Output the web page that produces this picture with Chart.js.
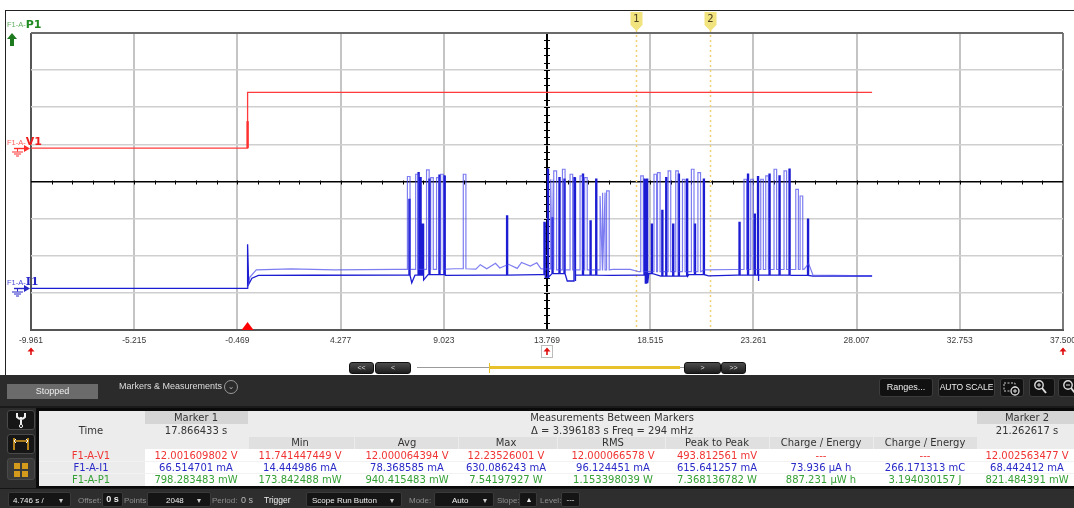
<!DOCTYPE html>
<html><head><meta charset="utf-8">
<script src="https://cdn.jsdelivr.net/npm/chart.js@4"></script>
<style>
html,body{margin:0;padding:0;width:1074px;height:508px;overflow:hidden;background:#fff;font-family:'DejaVu Sans',Verdana,sans-serif;}
#wrap{position:relative;width:1074px;height:508px;overflow:hidden;background:#fff;}
#frame{position:absolute;left:5px;top:10px;width:1200px;height:400px;border-left:1px solid #222;border-top:1px solid #222;}
#c{position:absolute;left:0;top:0;}
.a{position:absolute;white-space:nowrap;}
.sbtn{position:absolute;top:362px;height:10px;background:linear-gradient(#4c4c4c,#1c1c1c);border:1px solid #111;border-radius:3px;color:#ddd;font:7px 'Liberation Sans',sans-serif;text-align:center;line-height:10px;}
#panel{position:absolute;left:0;top:375px;width:1074px;height:133px;background:#2b2b2b;}
.ui{font-family:'Liberation Sans',Arial,sans-serif;}
.rb{position:absolute;top:378px;height:17px;background:#111;border:1px solid #3c3c3c;border-radius:3px;color:#eee;font:9px 'Liberation Sans',sans-serif;text-align:center;line-height:17px;}
.ib{position:absolute;left:7px;width:26px;background:#161616;border:1px solid #4a4a4a;border-radius:3px;}
.cell{position:absolute;}
.t{position:absolute;font:10px 'DejaVu Sans',Verdana,sans-serif;white-space:nowrap;transform:translateX(-50%);line-height:12px;}
#bar{position:absolute;left:0;top:488px;width:1074px;height:20px;background:#2e2e2e;border-top:1px solid #151515;}
.bt{position:absolute;font:8px 'Liberation Sans',Arial,sans-serif;color:#9a9a9a;white-space:nowrap;line-height:11px;}
.bx{position:absolute;height:13px;background:#151515;border:1px solid #3a3a3a;border-radius:2px;color:#eee;font:8px 'Liberation Sans',Arial,sans-serif;line-height:13px;white-space:nowrap;}
</style></head>
<body>
<div id="wrap">
<div id="frame"></div>
<canvas id="c" width="1100" height="375"></canvas>

<!-- scroll controls -->
<div class="sbtn" style="left:349px;width:23px;">&lt;&lt;</div>
<div class="sbtn" style="left:375px;width:34px;">&lt;</div>
<div class="a" style="left:417px;top:367px;width:267px;height:1px;background:#9a9a9a;"></div>
<div class="a" style="left:489px;top:366px;width:191px;height:3px;background:#e8c02a;"></div>
<div class="a" style="left:489px;top:363px;width:1px;height:10px;background:#e8c02a;"></div>
<div class="sbtn" style="left:684px;width:35px;">&gt;</div>
<div class="sbtn" style="left:721px;width:23px;">&gt;&gt;</div>

<div id="panel"></div>
<div class="a ui" style="left:7px;top:384px;width:91px;height:15px;background:#6b6b6b;color:#eee;font-size:9px;text-align:center;line-height:15px;">Stopped</div>
<div class="a ui" style="left:119px;top:381px;color:#ddd;font-size:9px;">Markers &amp; Measurements</div>
<div class="a" style="left:224px;top:380px;width:12px;height:12px;border:1px solid #999;border-radius:50%;color:#aaa;font:8px 'DejaVu Sans';text-align:center;line-height:12px;">&#8964;</div>
<div class="rb" style="left:879px;width:52px;">Ranges...</div>
<div class="rb" style="left:938px;width:55px;font-size:8.5px;">AUTO SCALE</div>
<div class="rb" style="left:1000px;width:22px;"></div>
<div class="rb" style="left:1029px;width:24px;"></div>
<div class="rb" style="left:1058px;width:24px;"></div>
<svg class="a" style="left:1000px;top:378px" width="80" height="20">
 <rect x="4" y="5" width="11" height="8" fill="none" stroke="#ccc" stroke-dasharray="2,1.5"/>
 <circle cx="15" cy="13" r="4" fill="#111" stroke="#ddd" stroke-width="1.3"/>
 <path d="M13 13h4M15 11v4" stroke="#ddd" stroke-width="1"/>
 <circle cx="39" cy="7" r="4.2" fill="none" stroke="#ddd" stroke-width="1.4"/>
 <path d="M37 7h4M39 5v4" stroke="#ddd" stroke-width="1"/>
 <path d="M42 10l4 5" stroke="#ddd" stroke-width="2"/>
 <circle cx="68" cy="7" r="4.2" fill="none" stroke="#ddd" stroke-width="1.4"/>
 <path d="M66 7h4" stroke="#ddd" stroke-width="1"/>
 <path d="M71 10l4 5" stroke="#ddd" stroke-width="2"/>
</svg>
<div class="a" style="left:0;top:406px;width:1074px;height:2px;background:#1a1a1a;"></div>

<!-- left icons -->
<div class="ib" style="top:410px;height:18px;"></div>
<div class="ib" style="top:434px;height:18px;"></div>
<div class="ib" style="top:458px;height:20px;background:#3a3a3a;"></div>
<svg class="a" style="left:7px;top:408px" width="28" height="74">
 <path d="M10 5 v4 q4 4 8 0 v-4 M14 9 v8" stroke="#eee" stroke-width="2" fill="none"/>
 <circle cx="14" cy="18" r="1.6" fill="none" stroke="#eee"/>
 <path d="M7 30v12M21 30v12M7 33h14" stroke="#e0a020" stroke-width="1.6" fill="none"/>
 <path d="M9 31l-2 2 2 2M19 31l2 2-2 2" stroke="#fff" stroke-width="1" fill="none"/>
 <rect x="7" y="55" width="6" height="6" fill="#d49a1c"/><rect x="15" y="55" width="6" height="6" fill="#d49a1c"/>
 <rect x="7" y="63" width="6" height="6" fill="#d49a1c"/><rect x="15" y="63" width="6" height="6" fill="#d49a1c"/>
</svg>

<div class="a" style="left:36px;top:408px;width:1040px;height:80px;background:#0a0a0a;"></div>
<div id="cells"></div>

<div id="bar"></div>
<div id="barItems"></div>
</div>

<script>
// ================== DATA ==================
const X_TICK_VALUES = [-9.961, -5.215, -0.469, 4.277, 9.023, 13.769, 18.515, 23.261, 28.007, 32.753, 37.500];
const X_TICK_LABELS = ['-9.961', '-5.215', '-0.469', '4.277', '9.023', '13.769', '18.515', '23.261', '28.007', '32.753', '37.500'];
const MARKER_TIMES = [17.866433, 21.262617];
const MARKER_LABELS = ['1', '2'];
const TRIGGER_TIME = 0;

// F1-A-V1 (volts)
const V1_T = [-9.961, 0.00, 0.00, 28.72];
const V1_V = [0, 0, 12.0, 12.0];
const V1_EDGE_T = [0.00, 0.00];
const V1_EDGE_V = [0, 5.8];

// F1-A-I1 (mA) - main sweep: baseline points
const I1_BASE_T = [-9.961, 0.00, 0.00, 0.05, 0.20, 0.50, 3.00, 6.90, 7.55, 7.70, 8.10, 8.30, 9.10, 11.00, 13.40, 13.70, 14.00, 14.70, 15.10, 16.70, 18.00, 18.30, 18.45, 19.00, 20.30, 21.20, 22.50, 23.50, 23.60, 25.00, 26.00, 28.72];
const I1_BASE_MA = [0, 0, 238, 22, 55, 70, 71, 72, 30, 72, 45, 74, 70, 72, 74, 60, 80, 40, 72, 70, 72, 28, 80, 66, 74, 68, 72, 40, 72, 70, 66, 67];
// main sweep: current pulses (time, peak)
const I1_SPIKE_T = [7.42, 7.84, 7.93, 8.04, 8.34, 8.80, 9.03, 11.91, 13.63, 13.79, 14.00, 14.32, 14.55, 15.01, 15.40, 15.75, 16.01, 18.23, 18.35, 18.57, 19.05, 19.23, 19.55, 19.81, 20.19, 20.55, 20.96, 22.60, 22.99, 23.30, 23.45, 23.98, 24.44, 24.90, 25.75];
const I1_SPIKE_MA = [480, 624, 597, 346, 588, 610, 606, 391, 355, 642, 380, 597, 588, 597, 615, 364, 588, 588, 588, 346, 420, 597, 346, 615, 588, 346, 588, 355, 615, 400, 606, 615, 606, 642, 373];

// persistence sweep (lighter)
const I1P_BASE_T = [0.00, 0.10, 0.40, 2.00, 4.00, 6.80, 9.50, 10.50, 10.70, 11.00, 11.40, 11.60, 12.00, 12.40, 12.60, 13.00, 13.30, 13.50, 14.00, 16.80, 17.60, 18.00, 21.00, 22.40, 25.60, 25.80, 26.00, 28.72];
const I1P_BASE_MA = [0, 60, 100, 105, 100, 103, 106, 104, 128, 106, 135, 110, 130, 108, 140, 120, 138, 105, 100, 103, 103, 90, 100, 102, 104, 135, 72, 68];
const I1P_SPIKE_T = [7.35, 7.73, 8.23, 8.42, 8.69, 8.88, 9.92, 13.94, 14.09, 14.48, 14.83, 15.29, 15.50, 16.21, 16.32, 16.51, 18.08, 18.69, 18.85, 19.34, 19.69, 20.00, 20.41, 20.71, 22.83, 23.14, 23.60, 23.83, 24.21, 24.67, 25.21, 25.41];
const I1P_SPIKE_MA = [603, 615, 639, 597, 597, 615, 615, 588, 633, 642, 615, 606, 597, 498, 516, 525, 606, 615, 624, 633, 633, 588, 642, 624, 588, 588, 588, 606, 642, 633, 534, 498];

// vertical scale settings (8 divisions)
const V1_RANGE = [-39.2, 24.8];   // 8 V/div
const I1_RANGE = [-224, 1376];    // 200 mA/div

// ================== TABLE TEXT ==================
const COL_X = [91, 196, 300, 407, 506, 613, 717, 821, 925, 1027];
const COL_BOUNDS = [248, 354, 458, 557, 665, 769, 873, 977];
const MEAS_HEAD = ['Min', 'Avg', 'Max', 'RMS', 'Peak to Peak', 'Charge / Energy', 'Charge / Energy'];
const ROW_NAMES = ['F1-A-V1', 'F1-A-I1', 'F1-A-P1'];
const ROW_COLORS = ['#f03434', '#2a2ac8', '#35a035'];
const ROW_VALUES = [
  ['12.001609802 V', '11.741447449 V', '12.000064394 V', '12.23526001 V', '12.000066578 V', '493.812561 mV', '---', '---', '12.002563477 V'],
  ['66.514701 mA', '14.444986 mA', '78.368585 mA', '630.086243 mA', '96.124451 mA', '615.641257 mA', '73.936 \u00b5A h', '266.171313 mC', '68.442412 mA'],
  ['798.283483 mW', '173.842488 mW', '940.415483 mW', '7.54197927 W', '1.153398039 W', '7.368136782 W', '887.231 \u00b5W h', '3.194030157 J', '821.484391 mW']
];

// ================== BUILD ==================
function toPts(ts, vs) { return ts.map((t, i) => ({x: t, y: vs[i]})); }
function buildTrace(bt, bv, st, sv, w) {
  const pts = toPts(bt, bv);
  st.forEach((t, i) => {
    let b = bv[0];
    for (let k = 0; k < bt.length; k++) if (bt[k] <= t) b = bv[k];
    pts.push({x: t, y: b}, {x: t, y: sv[i]}, {x: t + w, y: sv[i]}, {x: t + w, y: b});
  });
  pts.sort((a, b) => a.x - b.x);
  return pts;
}

const decoPlugin = {
  id: 'deco',
  beforeDatasetsDraw(chart) {
    const {ctx, chartArea: a, scales: {x, y}} = chart;
    ctx.save();
    const cx = x.getPixelForValue(X_TICK_VALUES[5]);
    const cy = y.getPixelForValue(4);
    ctx.strokeStyle = '#000'; ctx.lineWidth = 1;
    const dx = (a.right - a.left) / 50, dy = (a.bottom - a.top) / 40;
    for (let i = 1; i < 50; i++) { const px = Math.round(a.left + i * dx) + 0.5; ctx.beginPath(); ctx.moveTo(px, cy - 1); ctx.lineTo(px, cy + 3); ctx.stroke(); }
    for (let i = 1; i < 40; i++) { const py = Math.round(a.top + i * dy) + 0.5; ctx.beginPath(); ctx.moveTo(cx - 3, py); ctx.lineTo(cx + 3, py); ctx.stroke(); }
    ctx.strokeStyle = '#f0d070'; ctx.lineWidth = 1.5; ctx.setLineDash([2, 3]);
    MARKER_TIMES.forEach(t => { const px = Math.round(x.getPixelForValue(t)) + 0.5; ctx.beginPath(); ctx.moveTo(px, 30); ctx.lineTo(px, a.bottom); ctx.stroke(); });
    ctx.restore();
  },
  afterDraw(chart) {
    const {ctx, chartArea: a, scales: {x, yV, yI}} = chart;
    ctx.save();
    MARKER_TIMES.forEach((t, i) => {
      const px = Math.round(x.getPixelForValue(t)) + 0.5;
      ctx.fillStyle = '#f1e37e';
      ctx.beginPath(); ctx.moveTo(px - 6, 12); ctx.lineTo(px + 6, 12); ctx.lineTo(px + 6, 25); ctx.lineTo(px, 31); ctx.lineTo(px - 6, 25); ctx.closePath(); ctx.fill();
      ctx.fillStyle = '#4a4020'; ctx.font = '10px "DejaVu Sans"'; ctx.textAlign = 'center'; ctx.textBaseline = 'middle';
      ctx.fillText(MARKER_LABELS[i], px, 19);
    });
    const tx = x.getPixelForValue(TRIGGER_TIME);
    ctx.fillStyle = '#ff0000';
    ctx.beginPath(); ctx.moveTo(tx - 6, a.bottom); ctx.lineTo(tx + 6, a.bottom); ctx.lineTo(tx, a.bottom - 8); ctx.closePath(); ctx.fill();
    [0, 5, 10].forEach(i => {
      const px = x.getPixelForValue(X_TICK_VALUES[i]);
      if (i === 5) { ctx.fillStyle = '#fff'; ctx.strokeStyle = '#bbb'; ctx.lineWidth = 1; ctx.fillRect(px - 6, 345, 12, 13); ctx.strokeRect(px - 5.5, 345.5, 11, 12); }
      ctx.fillStyle = '#e01010';
      ctx.beginPath(); ctx.moveTo(px - 3.5, 351.5); ctx.lineTo(px + 3.5, 351.5); ctx.lineTo(px, 347.5); ctx.closePath(); ctx.fill();
      ctx.fillRect(px - 0.8, 351, 1.6, 4);
    });
    function chLabel(yb, big, cSmall, cBig, serif) {
      ctx.textAlign = 'left'; ctx.textBaseline = 'alphabetic';
      ctx.font = '7.5px "Liberation Sans"'; ctx.fillStyle = cSmall; ctx.fillText('F1-A-', 7, yb);
      const w = ctx.measureText('F1-A-').width;
      ctx.font = serif ? 'bold 11px "DejaVu Serif"' : 'bold 11px "DejaVu Sans"'; ctx.fillStyle = cBig; ctx.fillText(big, 7 + w, yb + 0.5);
    }
    function ground(py, col) {
      ctx.strokeStyle = col; ctx.fillStyle = col; ctx.lineWidth = 1.4;
      ctx.beginPath(); ctx.moveTo(14, py); ctx.lineTo(26, py); ctx.stroke();
      ctx.beginPath(); ctx.moveTo(24, py - 3.5); ctx.lineTo(30, py); ctx.lineTo(24, py + 3.5); ctx.closePath(); ctx.fill();
      ctx.lineWidth = 1;
      ctx.beginPath(); ctx.moveTo(17.5, py); ctx.lineTo(17.5, py + 3); ctx.stroke();
      ctx.beginPath(); ctx.moveTo(12, py + 3.5); ctx.lineTo(23, py + 3.5); ctx.moveTo(14, py + 5.5); ctx.lineTo(21, py + 5.5); ctx.moveTo(16, py + 7.5); ctx.lineTo(19, py + 7.5); ctx.stroke();
    }
    chLabel(27, 'P1', '#62ad62', '#1e8a1e');
    ctx.fillStyle = '#1e7a1e';
    ctx.beginPath(); ctx.moveTo(7, 39); ctx.lineTo(12, 33); ctx.lineTo(17, 39); ctx.closePath(); ctx.fill();
    ctx.fillRect(10, 38, 4, 8);
    const gV = Math.round(yV.getPixelForValue(0)) + 0.5;
    const gI = Math.round(yI.getPixelForValue(0)) + 0.5;
    chLabel(gV - 4, 'V1', '#ff5a5a', '#ee1c1c');
    ground(gV, '#ff2a2a');
    chLabel(gI - 4, 'I1', '#4a4ad8', '#2525c8', true);
    ground(gI, '#2525c8');
    ctx.restore();
  }
};

const gridX = (c) => {
  if (c.index === 5) return '#000';
  if (c.index === 0) return '#555';
  if (c.index === 10) return '#7a7a7a';
  return '#c4c4c4';
};
const gridY = (c) => {
  if (c.index === 4) return '#000';
  if (c.index === 8) return '#6a6a6a';
  if (c.index === 0) return '#555';
  return '#cfcfcf';
};

new Chart(document.getElementById('c'), {
  type: 'line',
  data: {
    datasets: [
      {label: 'F1-A-I1 persistence', data: buildTrace(I1P_BASE_T, I1P_BASE_MA, I1P_SPIKE_T, I1P_SPIKE_MA, 0.12), yAxisID: 'yI', borderColor: 'rgba(70,70,235,0.7)', borderWidth: 1.2},
      {label: 'F1-A-I1', data: buildTrace(I1_BASE_T, I1_BASE_MA, I1_SPIKE_T, I1_SPIKE_MA, 0.05), yAxisID: 'yI', borderColor: '#1c1cd2', borderWidth: 1.3},
      {label: 'F1-A-V1 edge', data: toPts(V1_EDGE_T, V1_EDGE_V), yAxisID: 'yV', borderColor: '#ff3030', borderWidth: 2.4},
      {label: 'F1-A-V1', data: toPts(V1_T, V1_V), yAxisID: 'yV', borderColor: '#ff3a3a', borderWidth: 1.3}
    ]
  },
  options: {
    responsive: false, animation: false, devicePixelRatio: 1,
    layout: {padding: {left: 31, top: 33, right: 37, bottom: 0}},
    elements: {point: {radius: 0}, line: {tension: 0, borderJoinStyle: 'miter'}},
    plugins: {legend: {display: false}, tooltip: {enabled: false}},
    scales: {
      x: {
        type: 'linear', min: X_TICK_VALUES[0], max: X_TICK_VALUES[10],
        afterBuildTicks: (s) => { s.ticks = X_TICK_VALUES.map(v => ({value: v})); },
        afterFit: (s) => { s.height = 45; },
        ticks: {autoSkip: false, maxRotation: 0, padding: 6, color: '#3a3a3a', font: {family: 'Liberation Sans', size: 8.5}, callback: (v, i) => X_TICK_LABELS[i]},
        grid: {color: gridX, lineWidth: 2, drawTicks: false},
        border: {display: true, color: '#555', width: 2}
      },
      y: {
        type: 'linear', min: 0, max: 8, position: 'left',
        afterBuildTicks: (s) => { s.ticks = [0, 1, 2, 3, 4, 5, 6, 7, 8].map(v => ({value: v})); },
        afterFit: (s) => { s.width = 0; },
        ticks: {display: false},
        grid: {color: gridY, lineWidth: (c) => (c.index === 8 ? 2 : 1.6), drawTicks: false},
        border: {display: false}
      },
      yV: {type: 'linear', display: false, min: V1_RANGE[0], max: V1_RANGE[1]},
      yI: {type: 'linear', display: false, min: I1_RANGE[0], max: I1_RANGE[1]}
    }
  },
  plugins: [decoPlugin]
});

// ================== TABLE ==================
(function () {
  const host = document.getElementById('cells');
  function box(l, t, w, h, bg) { const d = document.createElement('div'); d.className = 'cell'; d.style.cssText = `left:${l}px;top:${t}px;width:${w}px;height:${h}px;background:${bg};`; host.appendChild(d); }
  function txt(cx, cy, s, col) { const d = document.createElement('div'); d.className = 't'; d.style.left = cx + 'px'; d.style.top = (cy - 6) + 'px'; d.style.color = col; d.textContent = s; host.appendChild(d); }
  box(39, 411, 1040, 75, '#ececec');
  box(145, 411, 103, 13, '#d5d5d5');
  box(977, 411, 100, 13, '#d5d5d5');
  for (let i = 0; i < 7; i++) box(COL_BOUNDS[i] + 1, 437, COL_BOUNDS[i + 1] - COL_BOUNDS[i] - 1, 12, '#e0e0e0');
  box(145, 449, 935, 37, '#ffffff');
  for (let r = 1; r < 3; r++) box(39, 449 + r * 12 , 1040, 1, '#f2f2f2');
  txt(COL_X[1], 418, 'Marker 1', '#333');
  txt(612, 418, 'Measurements Between Markers', '#333');
  txt(COL_X[9], 418, 'Marker 2', '#333');
  txt(COL_X[0], 431, 'Time', '#333');
  txt(COL_X[1], 431, '17.866433 s', '#333');
  txt(612, 431, '\u0394 = 3.396183 s   Freq = 294 mHz', '#333');
  txt(COL_X[9], 431, '21.262617 s', '#333');
  MEAS_HEAD.forEach((h, i) => txt(COL_X[i + 2], 443, h, '#333'));
  ROW_NAMES.forEach((n, r) => {
    const cy = 455.5 + r * 12;
    txt(COL_X[0], cy, n, ROW_COLORS[r]);
    ROW_VALUES[r].forEach((v, i) => txt(COL_X[i + 1], cy, v, ROW_COLORS[r]));
  });
})();

// ================== BOTTOM BAR ==================
(function () {
  const host = document.getElementById('barItems');
  function el(cls, l, w, s, extra) { const d = document.createElement('div'); d.className = cls; d.style.left = l + 'px'; if (w) d.style.width = w + 'px'; d.style.top = (cls === 'bx' ? 492 : 495) + 'px'; if (extra) d.style.cssText += extra; d.textContent = s; host.appendChild(d); }
  function tx(l, s, col, extra) { const d = document.createElement('div'); d.className = 'bt'; d.style.left = l + 'px'; d.style.top = '495px'; d.style.color = col; if (extra) d.style.cssText += extra; d.textContent = s; host.appendChild(d); }
  el('bx', 8, 61, '');
  tx(13, '4.746 s /', '#eee'); tx(59, '\u25be', '#ccc');
  tx(78, 'Offset:', '#8e8e8e');
  el('bx', 102, 19, '0 s', 'text-align:center;font-weight:bold;font-size:9px;');
  tx(124, 'Points:', '#8e8e8e');
  el('bx', 147, 62, '');
  tx(166, '2048', '#eee'); tx(197, '\u25be', '#ccc');
  tx(212, 'Period:', '#8e8e8e'); tx(241, '0 s', '#bbb', 'font-size:9px;');
  tx(264, 'Trigger', '#eee', 'font-size:8.5px;');
  el('bx', 306, 94, '');
  tx(312, 'Scope Run Button', '#eee'); tx(390, '\u25be', '#ccc');
  tx(409, 'Mode:', '#8e8e8e');
  el('bx', 434, 58, '');
  tx(452, 'Auto', '#eee'); tx(483, '\u25be', '#ccc');
  tx(497, 'Slope:', '#8e8e8e');
  el('bx', 519, 16, '\u00a0\u25b2', 'font-size:7px;text-align:center;');
  tx(540, 'Level:', '#8e8e8e');
  el('bx', 561, 17, '---', 'text-align:center;');
})();
</script>
</body></html>
